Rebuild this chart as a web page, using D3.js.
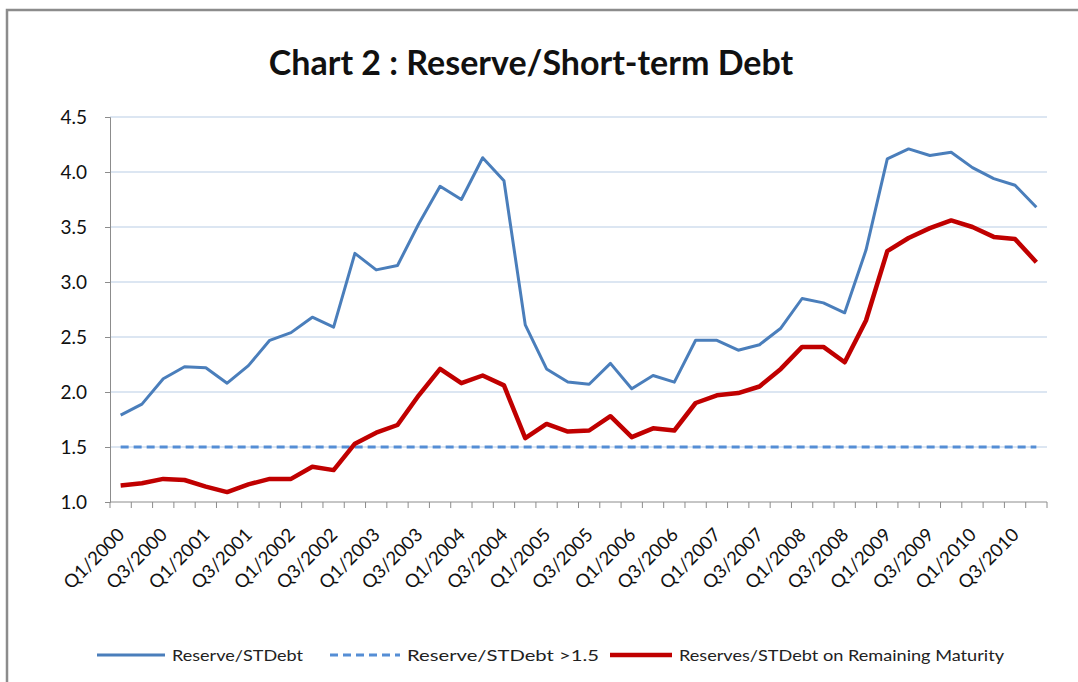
<!DOCTYPE html>
<html>
<head>
<meta charset="utf-8">
<script src="https://cdn.jsdelivr.net/npm/d3@7"></script>
<style>
  body { margin: 0; background: #fff; }
  text { font-family: Lato, "Open Sans", sans-serif; }
</style>
</head>
<body>
<div id="chart-area"></div>
<script>
// Quarters Q1/2000 .. Q4/2010
var quarters = [];
for (var yr = 2000; yr <= 2010; yr++) {
    for (var q = 1; q <= 4; q++) quarters.push("Q" + q + "/" + yr);
}

var reserveST = [1.79, 1.89, 2.12, 2.23, 2.22, 2.08, 2.24, 2.47, 2.54, 2.68, 2.59,
    3.26, 3.11, 3.15, 3.53, 3.87, 3.75, 4.13, 3.92, 2.61, 2.21, 2.09, 2.07, 2.26,
    2.03, 2.15, 2.09, 2.47, 2.47, 2.38, 2.43, 2.58, 2.85, 2.81, 2.72, 3.29, 4.12,
    4.21, 4.15, 4.18, 4.04, 3.94, 3.88, 3.68];

var reserveRemaining = [1.15, 1.17, 1.21, 1.20, 1.14, 1.09, 1.16, 1.21, 1.21, 1.32,
    1.29, 1.53, 1.63, 1.70, 1.97, 2.21, 2.08, 2.15, 2.06, 1.58, 1.71, 1.64, 1.65,
    1.78, 1.59, 1.67, 1.65, 1.90, 1.97, 1.99, 2.05, 2.21, 2.41, 2.41, 2.27, 2.65,
    3.28, 3.40, 3.49, 3.56, 3.50, 3.41, 3.39, 3.18];

var threshold = 1.5;
var yTicks = [1.0, 1.5, 2.0, 2.5, 3.0, 3.5, 4.0, 4.5];

var margin = { left:110, right:31, top:117, bottom:180 },
    width = 1078 - margin.left - margin.right,
    height = 682 - margin.top - margin.bottom;

var svg = d3.select("#chart-area")
    .append("svg")
    .attr("width", 1078)
    .attr("height", 682);

// chart frame
svg.append("rect")
    .attr("x", 7).attr("y", 10)
    .attr("width", 1090).attr("height", 700)
    .attr("fill", "#fff")
    .attr("stroke", "#8c8c8c")
    .attr("stroke-width", 2.5);

svg.append("text")
    .attr("x", 531).attr("y", 75)
    .attr("text-anchor", "middle")
    .attr("font-size", "34px")
    .attr("font-weight", "bold")
    .attr("fill", "#111")
    .text("Chart 2 : Reserve/Short-term Debt");

var g = svg.append("g")
    .attr("transform", "translate(" + margin.left + ", " + margin.top + ")");

// Scales
var x = d3.scaleBand().domain(quarters).range([0, width]);
var y = d3.scaleLinear().domain([1, 4.5]).range([height, 0]);
var cx = function(d, i){ return x(quarters[i]) + x.bandwidth() / 2; };

// Gridlines
g.append("g")
    .selectAll("line")
    .data(yTicks.slice(1))
    .enter().append("line")
    .attr("x1", 0).attr("x2", width)
    .attr("y1", function(d){ return y(d); })
    .attr("y2", function(d){ return y(d); })
    .attr("stroke", "#b9cde5")
    .attr("stroke-width", 1);

// Y-axis
var yAxis = g.append("g")
    .attr("class", "y axis")
    .call(d3.axisLeft(y).tickValues(yTicks).tickFormat(d3.format(".1f")).tickSize(5).tickPadding(18));
yAxis.select(".domain").attr("stroke", "#8c8c8c");
yAxis.selectAll(".tick line").attr("stroke", "#8c8c8c");
yAxis.selectAll("text")
    .attr("font-size", "19px")
    .attr("fill", "#111")
    .style("font-family", "Lato, sans-serif");

// X-axis: ticks at category boundaries
var xAxis = g.append("g")
    .attr("class", "x axis")
    .attr("transform", "translate(0," + height + ")");
xAxis.append("line")
    .attr("x1", 0).attr("x2", width)
    .attr("stroke", "#8c8c8c");
xAxis.selectAll(".bound")
    .data(d3.range(quarters.length + 1))
    .enter().append("line")
    .attr("class", "bound")
    .attr("x1", function(i){ return i * x.step(); })
    .attr("x2", function(i){ return i * x.step(); })
    .attr("y1", 0).attr("y2", 6)
    .attr("stroke", "#8c8c8c");
xAxis.selectAll(".lbl")
    .data(quarters.filter(function(d, i){ return i % 2 == 0; }))
    .enter().append("text")
    .attr("class", "lbl")
    .attr("text-anchor", "end")
    .attr("font-size", "18.5px")
    .attr("fill", "#111")
    .attr("transform", function(d){
        return "translate(" + (x(d) + x.bandwidth() / 2 + 5) + ",34) rotate(-45)";
    })
    .text(function(d){ return d; });

// Lines
var line = d3.line()
    .x(cx)
    .y(function(d){ return y(d); });

g.append("path")
    .attr("fill", "none")
    .attr("stroke", "#558ed5")
    .attr("stroke-width", 3)
    .attr("stroke-dasharray", "8,5")
    .attr("d", line(quarters.map(function(){ return threshold; })));

g.append("path")
    .attr("fill", "none")
    .attr("stroke", "#4a7ebb")
    .attr("stroke-width", 3)
    .attr("stroke-linejoin", "round")
    .attr("d", line(reserveST));

g.append("path")
    .attr("fill", "none")
    .attr("stroke", "#c00000")
    .attr("stroke-width", 4.5)
    .attr("stroke-linejoin", "round")
    .attr("d", line(reserveRemaining));

// Legend
var legendItems = [
    { label: "Reserve/STDebt", color: "#4a7ebb", w: 3, dash: null, x0: 97, x1: 165, tx: 172, tl: 131 },
    { label: "Reserve/STDebt >1.5", color: "#558ed5", w: 3, dash: "8,5", x0: 330, x1: 400, tx: 407, tl: 192 },
    { label: "Reserves/STDebt on Remaining Maturity", color: "#c00000", w: 4.5, dash: null, x0: 610, x1: 672, tx: 679, tl: 325 }
];
var legend = svg.append("g");
legendItems.forEach(function(d){
    legend.append("line")
        .attr("x1", d.x0).attr("x2", d.x1)
        .attr("y1", 655).attr("y2", 655)
        .attr("stroke", d.color)
        .attr("stroke-width", d.w)
        .attr("stroke-dasharray", d.dash);
    legend.append("text")
        .attr("x", d.tx).attr("y", 661)
        .attr("font-size", "16px")
        .attr("fill", "#222")
        .attr("textLength", d.tl)
        .attr("lengthAdjust", "spacingAndGlyphs")
        .text(d.label);
});
</script>
</body>
</html>
